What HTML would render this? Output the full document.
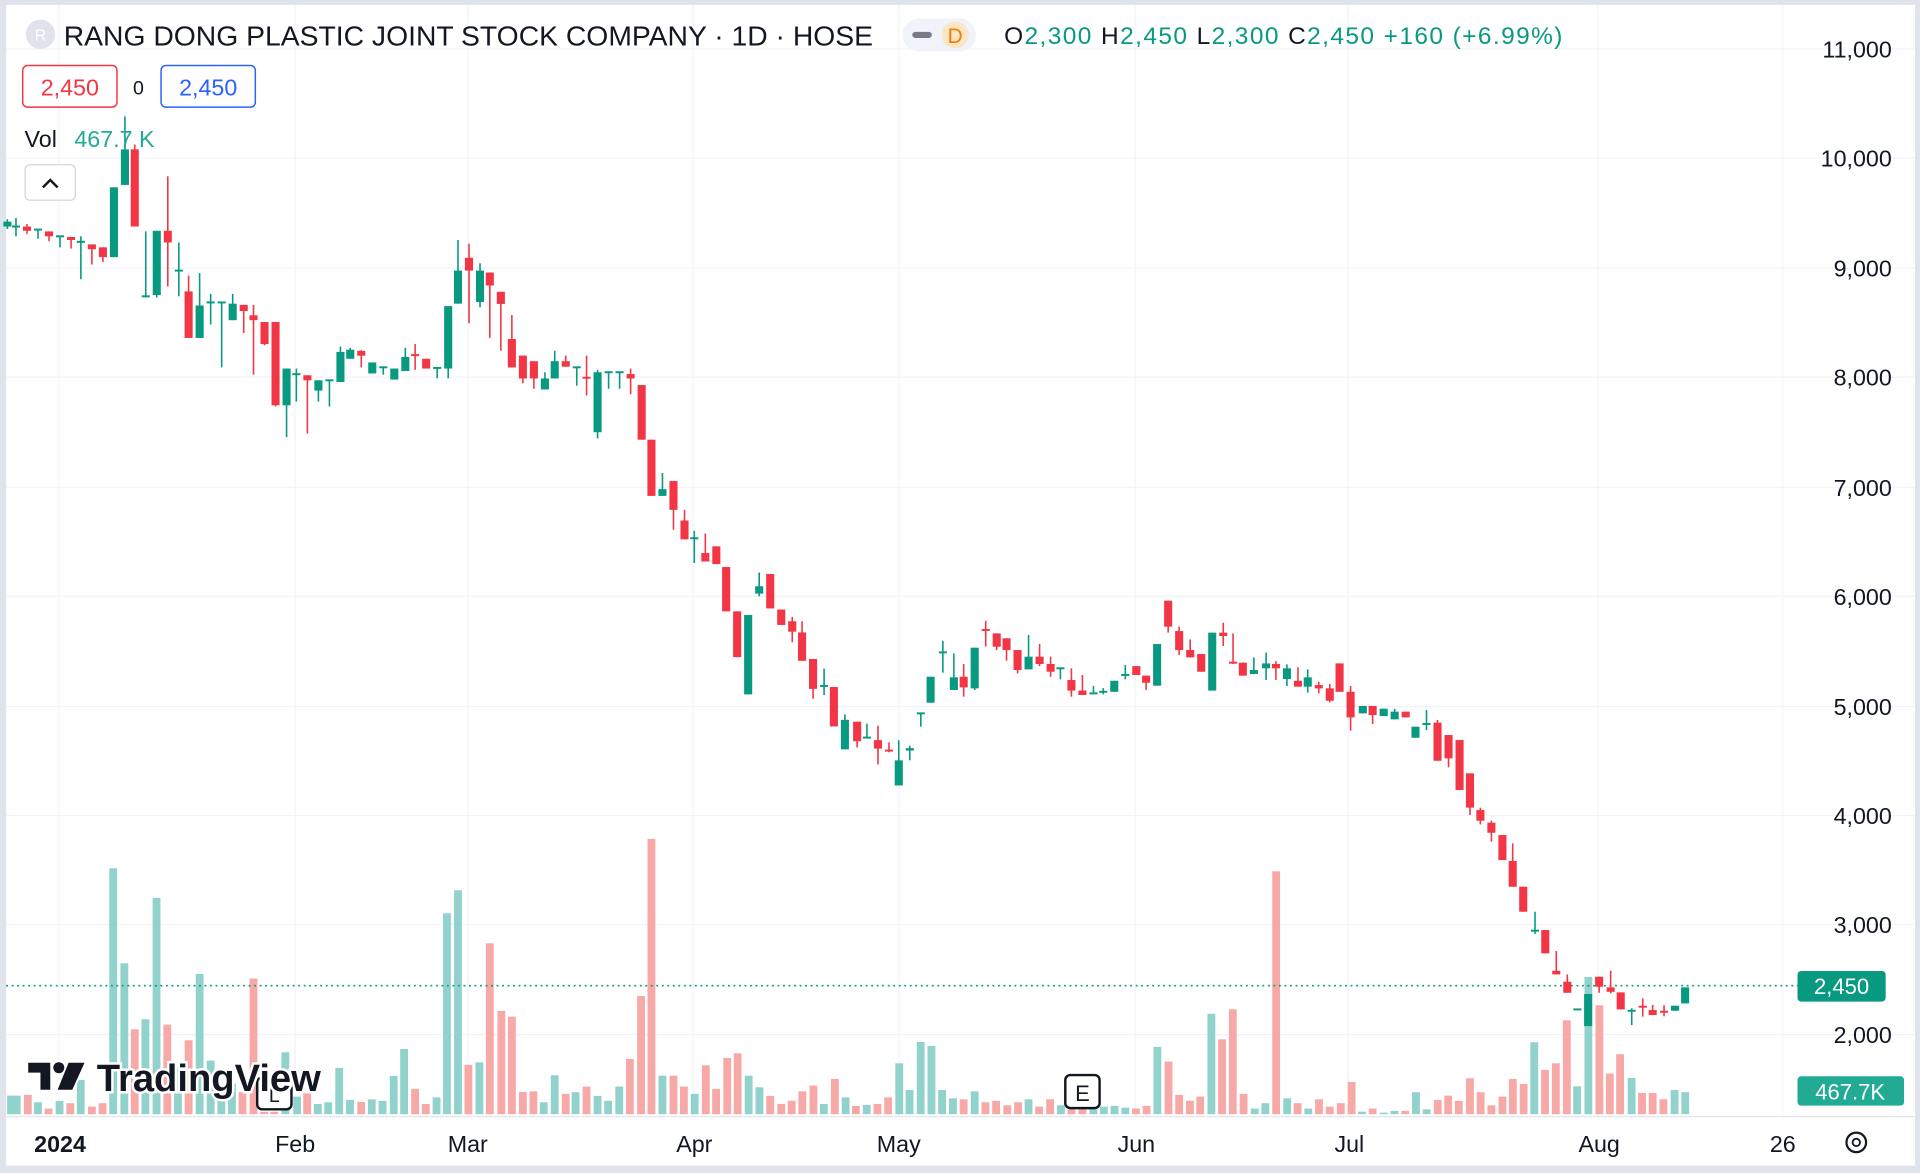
<!DOCTYPE html>
<html><head><meta charset="utf-8">
<style>
html,body{margin:0;padding:0;background:#fff;}
svg{display:block;font-family:"Liberation Sans",Arial,sans-serif;}
</style></head>
<body>
<svg id="s" width="1920" height="1173" viewBox="0 0 1568 958" xmlns="http://www.w3.org/2000/svg">
<rect x="0" y="0" width="1568" height="958" fill="#fff"/>
<rect x="0" y="0" width="5" height="958" fill="#e0e3eb"/>
<rect x="0" y="0" width="1568" height="4" fill="#e0e3eb"/>
<rect x="0" y="952" width="1568" height="6" fill="#e0e3eb"/>
<rect x="1564" y="0" width="4" height="958" fill="#e0e3eb"/>
<g id="grid" stroke="#f0f3fa" stroke-width="1"></g>
<g id="vol"></g>
<line x1="5" y1="805" x2="1468" y2="805" stroke="#089981" stroke-width="1.3" stroke-dasharray="1.5 3"/>
<g id="cdl"></g>
<line x1="5" y1="912" x2="1564" y2="912" stroke="#e0e3eb" stroke-width="1"/>

<!-- header -->
<circle cx="33" cy="28" r="12" fill="#e0e3eb"/>
<text x="33" y="33" font-size="13" fill="#fff" text-anchor="middle">R</text>
<text x="52" y="37" font-size="23" fill="#131722" textLength="661" lengthAdjust="spacingAndGlyphs">RANG DONG PLASTIC JOINT STOCK COMPANY · 1D · HOSE</text>
<rect x="737" y="15" width="60" height="27" rx="13.5" fill="#f0f3fa"/>
<rect x="745" y="26" width="16" height="5" rx="2.5" fill="#787b86"/>
<circle cx="780" cy="28.5" r="11" fill="#fde6c8"/>
<text x="780" y="35" font-size="17" fill="#f57c00" text-anchor="middle">D</text>
<text x="820" y="36" font-size="20" fill="#131722" textLength="456" lengthAdjust="spacing">O<tspan fill="#089981">2,300</tspan>  H<tspan fill="#089981">2,450</tspan>  L<tspan fill="#089981">2,300</tspan>  C<tspan fill="#089981">2,450  +160  (+6.99%)</tspan></text>

<rect x="18.5" y="53.5" width="77" height="34" rx="4" fill="#fff" stroke="#f23645" stroke-width="1.2"/>
<text x="57" y="78" font-size="19" fill="#f23645" text-anchor="middle">2,450</text>
<text x="113" y="77" font-size="16" fill="#131722" text-anchor="middle">0</text>
<rect x="131.5" y="53.5" width="77" height="34" rx="4" fill="#fff" stroke="#2962ff" stroke-width="1.2"/>
<text x="170" y="78" font-size="19" fill="#2962ff" text-anchor="middle">2,450</text>

<text x="20" y="120" font-size="19" fill="#131722">Vol <tspan fill="#22ab94" dx="9">467.7 K</tspan></text>
<rect x="20.5" y="134.5" width="41" height="29" rx="4" fill="#fff" stroke="#d1d4dc"/>
<polyline points="35,153 41,147 47,153" fill="none" stroke="#131722" stroke-width="2"/>

<!-- price axis -->
<g font-size="19" fill="#131722" text-anchor="end">
<text x="1545" y="47">11,000</text>
<text x="1545" y="136">10,000</text>
<text x="1545" y="226">9,000</text>
<text x="1545" y="315">8,000</text>
<text x="1545" y="405">7,000</text>
<text x="1545" y="494">6,000</text>
<text x="1545" y="584">5,000</text>
<text x="1545" y="673">4,000</text>
<text x="1545" y="762">3,000</text>
<text x="1545" y="852">2,000</text>
</g>
<rect x="1468" y="793" width="72" height="25" rx="3" fill="#089981"/>
<text x="1504" y="812" font-size="18" fill="#fff" text-anchor="middle">2,450</text>
<rect x="1468" y="879" width="87" height="24" rx="3" fill="#22ab94"/>
<text x="1511" y="898" font-size="18" fill="#fff" text-anchor="middle">467.7K</text>

<!-- time axis -->
<g font-size="19" fill="#131722" text-anchor="middle">
<text x="49" y="941" font-weight="bold">2024</text>
<text x="241" y="941">Feb</text>
<text x="382" y="941">Mar</text>
<text x="567" y="941">Apr</text>
<text x="734" y="941">May</text>
<text x="928" y="941">Jun</text>
<text x="1102" y="941">Jul</text>
<text x="1306" y="941">Aug</text>
<text x="1456" y="941">26</text>
</g>
<circle cx="1516" cy="933" r="8" fill="none" stroke="#131722" stroke-width="1.8"/>
<circle cx="1516" cy="933" r="3" fill="none" stroke="#131722" stroke-width="1.5"/>

<!-- markers -->
<rect x="210" y="880" width="28" height="26" rx="4" fill="#fff" stroke="#131722" stroke-width="2"/>
<text x="224" y="900" font-size="16" fill="#131722" text-anchor="middle">L</text>
<rect x="870" y="878" width="28" height="27" rx="4" fill="#fff" stroke="#131722" stroke-width="2"/>
<text x="884" y="899" font-size="18" fill="#131722" text-anchor="middle">E</text>

<!-- logo -->
<g fill="#131722" stroke="#fff" stroke-width="3" paint-order="stroke">
<path d="M23,868 h18 v22 h-8 v-14 h-10 z"/>
<circle cx="48" cy="872" r="4.5"/>
<path d="M56,868 h13 l-10,22 h-12 z"/>
</g>
<text x="79" y="891" font-size="31" font-weight="bold" fill="#131722" stroke="#fff" stroke-width="4" paint-order="stroke" textLength="183" lengthAdjust="spacingAndGlyphs">TradingView</text>
</svg>
<script>
var NS="http://www.w3.org/2000/svg";
function el(p,t,a){var e=document.createElementNS(NS,t);for(var k in a)e.setAttribute(k,a[k]);p.appendChild(e);return e;}
var g=document.getElementById('grid');
[40,129,219,308,398,487,577,666,755,845].forEach(function(y){el(g,'line',{x1:5,x2:1564,y1:y,y2:y});});
[48,241,382,566,734,927,1101,1305,1456].forEach(function(x){el(g,'line',{x1:x,x2:x,y1:4,y2:912});});
var C=[[6,185,181,179,187,1],[13,185,185,178,193,1],[22,185,188.5,183,191,0],[31,187.5,187.5,187.5,195,1],[40,189,193,189,197,0],[49,193,193,193,202,1],[58,193.5,196,193.5,203,0],[66,197.5,197.5,193,228,1],[75,199.6,203.5,199.6,216,0],[84,202,210,202,214,0],[93,210,153,153,210,1],[102,151,122,95,151,1],[110,122,185,118,185,0],[119,243,242,189,243,1],[128,241,188.5,188.5,243,1],[137,188.5,198,144,234,0],[146,221,221,198,242,1],[154,238,276,225,276,0],[163,276,249.5,223,276,1],[172,247,247,240,265,1],[181,247,247,247,300,1],[190,261.5,248,240,261.5,1],[199,249,254,249,272,0],[207,257.5,261.5,249,306,0],[216,263,281,263,282,0],[225,263,331,263,332,0],[234,331,301,301,357,1],[242,305.6,305.6,301,328,1],[251,306.5,310.6,306.5,354,0],[260,319,310.6,310.6,328,1],[269,310.6,310.6,310.6,332,1],[278,312,287.4,283,312,1],[286,293,285.6,284,293,1],[295,286.6,290.5,286,300,0],[304,305,296,296,305,1],[313,300,300,300,306,1],[322,310,301,301,310,1],[331,303,291.5,284,303,1],[339,290,290,281,302,0],[348,293,301,293,301,0],[357,300.5,300.5,300.5,309,1],[366,301,250,250,309,1],[374,248,221,196,248,1],[383,210.5,221,199,264,0],[392,246.7,221,215,251,1],[400,222.6,233.2,222.6,276,0],[409,238.3,248.2,238.3,286.5,0],[418,276.9,300.1,257.3,300.1,0],[427,290.4,309.1,290.4,313,0],[436,295,309.1,295,317.5,0],[445,318.1,309.1,304,318.1,1],[453,309.1,295,286.5,309.1,1],[462,295,299.5,290.4,299.5,0],[471,300,300,300,315,1],[479,308.5,308.5,290.4,323,0],[488,353,304,302,358,1],[497,304,304,304,317.5,1],[506,304,304,304,317.5,1],[515,305.5,309.1,301,322,0],[524,314.5,359.1,314.5,359.1,0],[532,359.1,405,359.1,405,0],[541,405,399.5,386.3,405,1],[550,392.9,416.4,392.9,432.7,0],[559,425.1,440.5,416.4,440.5,0],[567,439.6,439.6,433.6,459.8,1],[576,451.7,458.6,435.7,458.6,0],[585,446.2,460.7,446.2,460.7,0],[593,463.1,499.3,463.1,499.3,0],[602,499.3,536.7,499.3,536.7,0],[611,567.1,502.3,502.3,567.1,1],[620,484.8,478.8,467.6,487,1],[629,468.8,496.9,468.8,496.9,0],[638,497.8,510.4,497.8,510.4,0],[647,507.4,515.9,503.8,524.6,0],[655,516.5,539.7,507.4,539.7,0],[664,538.2,562.6,538.2,570.7,0],[673,560.2,560.2,546,567.7,1],[681,561.1,593.3,561.1,593.3,0],[690,612,587.9,583.4,612,1],[700,589.4,605.4,589.4,610.5,0],[708,602.4,602.4,591,602.4,1],[717,604.5,611.4,592.7,624.4,0],[726,613,613,606.3,614.4,0],[734,641.5,621,604.5,641.5,1],[743,613,611,609,621,1],[752,582.6,582.6,582.6,593.5,1],[760,573.9,552.7,552.7,573.9,1],[770,532.8,532.8,523.3,549.4,1],[779,563.5,553.2,533.6,563.5,1],[787,552.7,561.4,542.3,569,0],[796,562.2,529,529,563.5,1],[805,514.5,514.5,507,528,0],[814,517.3,528.2,517.3,530.9,0],[822,521.3,530.9,521.3,539.6,0],[831,530.9,547.2,530.9,550,0],[840,546.7,536.3,518.6,546.7,1],[849,536.3,542.3,526,544,0],[858,542.3,548.6,536.3,552.7,0],[866,545.8,545.8,545.8,554.8,1],[875,555.4,564,545.8,569,0],[884,564,567.6,551.3,567.6,0],[893,566.3,566.3,560.3,566.3,1],[901,565,565,562,567,1],[910,565,556,556,565,1],[919,551.3,551.3,543.1,554.8,1],[928,544,551.3,544,551.3,0],[936,551.8,557.6,551.8,563.5,0],[945,560,526,526,560,1],[954,490.6,511.8,490.6,516.7,0],[963,515.4,530.9,511.8,535,0],[972,530.9,536.9,522.2,536.9,0],[981,534.1,548.6,534.1,548.6,0],[990,564,516.7,516.7,564,1],[999,516.7,519.4,508.6,527.6,0],[1007,541.2,542.3,517.3,542.3,0],[1015,541.2,551.8,541.2,551.8,0],[1024,550.5,547.2,536.9,550.5,1],[1034,545.8,541.8,533,555.4,1],[1042,542.3,545.8,540,555.4,0],[1051,554.6,545.8,542.6,560.3,1],[1060,556,560.8,545,560.8,0],[1068,560.8,553.2,546.7,565.7,1],[1077,559.5,562.2,556.7,566.3,0],[1086,562.2,572.3,558.6,573.6,0],[1094,541.8,565,541.8,565,0],[1103,565,585.9,560.3,596.8,0],[1113,582.6,576.6,576.6,582.6,1],[1121,576.6,584,576.6,591.3,0],[1130,584.8,578.8,578.8,584.8,1],[1139,587.5,581.2,579,587.5,1],[1148,581.2,585.9,581.2,585.9,0],[1156,602.5,593.5,593.5,602.5,1],[1165,591.3,591.3,579.9,596.2,1],[1174,590.2,621.3,588,621.3,0],[1183,600.3,619.4,600.3,626.7,0],[1192,604.4,645.2,604.4,645.2,0],[1200.5,631.6,659.6,631.6,665.6,0],[1209,661.6,670.3,659.6,673.3,0],[1218,671.9,680.1,670.3,687.4,0],[1227,682,702.4,682,702.4,0],[1235.4,703.2,724.2,688.8,724.2,0],[1244,724.2,744.6,724.2,744.6,0],[1253.6,760.1,760.1,744.6,762.8,1],[1262,759.6,778.6,759.6,778.6,0],[1271,792.8,795.8,776.7,795.8,0],[1280,801.8,810.8,795.8,810.8,0],[1288.2,824.4,824.4,824.4,824.4,1],[1297,838,811.8,811.8,838,1],[1306,797.7,805.9,797.7,810.8,0],[1315.4,806.4,810,792.8,811.3,0],[1323.6,810.5,824.4,810.5,824.4,0],[1332.6,825.5,825.5,823.5,837.2,1],[1341.6,822.2,822.2,815.4,830.3,0],[1349.7,824.9,829,820.8,829,0],[1359,826.3,826.3,821,830,0],[1368,825.5,821.4,821.4,825.5,1],[1376.2,819.5,806.4,806.4,819.5,1]];
var V=[[9,894.8],[13.6,894.8],[22.7,894.2],[31,900.2],[39.6,905.4],[48.6,899.1],[57.4,901],[65.9,882],[75,903.8],[83.7,901],[92.4,709.1],[101.5,786.7],[110,840.6],[118.7,832.4],[127.8,733.3],[136.6,836.8],[145.3,872],[154,849.6],[163,795.4],[172,866.2],[180.7,893],[189.4,885],[198,892],[207,799.2],[215.7,908],[224,908],[233,859.4],[242.6,895.6],[250.8,892.9],[259.5,901.6],[268,900.2],[277,872.2],[285.8,898.3],[295,900],[303.6,897.8],[312.4,899.1],[321.5,878.7],[330,856.7],[339,889.3],[347.7,901.6],[356.5,896.2],[365,745.9],[374,727.1],[382.5,869.7],[391.5,867.6],[400,770.4],[409.4,825.6],[418,830.3],[427,891.8],[435.6,891.3],[444,900.2],[453,878.2],[462,893.4],[470,892],[479,887.4],[488,895],[496.6,899],[505.7,887.4],[514.4,864.8],[523.5,813.4],[532,685.1],[541,878.5],[550,878.5],[558.5,887.4],[567.3,893.4],[576.4,870],[584.8,889.3],[593.9,864],[602.4,860.2],[611.4,878.5],[620.2,888],[629,895],[638,901.6],[646.5,899],[655.2,891.3],[664.3,886.6],[672.8,901.6],[681.8,881.2],[690.6,896.2],[699,903.2],[707.8,902.4],[716.6,901.6],[725.3,896.2],[734.4,868.4],[742.8,890.2],[751.9,851],[760.7,854.2],[769.4,890.2],[778.2,897],[787,897.8],[796,891.3],[804.8,900.2],[813.5,899],[822.6,902.7],[831.4,900.2],[840,897.8],[848.6,903.8],[857.6,897.8],[866.4,902.7],[875,906],[884,906],[893,906],[901.5,903.8],[910.2,903.2],[919,904.6],[927.7,905.4],[936.4,903.2],[945.2,855],[954.3,867],[963,894.2],[971.8,899],[980.2,895.6],[989.3,828],[998,848.8],[1006.8,824.3],[1015.6,893.4],[1024.7,905.4],[1033.4,901],[1042.2,711.6],[1051.2,897],[1059.7,901],[1068.5,905.4],[1077.2,897.8],[1086,903.8],[1095,901],[1103.8,883.6],[1112.3,907.9],[1121,905.4],[1130,908.7],[1138.9,907.3],[1147.6,907.3],[1156.4,892],[1165.1,906],[1174.2,898.3],[1182.7,894.8],[1191.4,899.1],[1200.5,880.6],[1209.2,892],[1218,902.7],[1227,895.6],[1235.5,881.2],[1244.3,885.3],[1253,851.2],[1261.8,873.8],[1270.6,868.4],[1279.6,833.3],[1288,887.2],[1297.2,797.9],[1306.2,821],[1314.7,876.8],[1323.1,861],[1332.5,880.4],[1341,892.6],[1349.7,892.6],[1358.5,897.8],[1367.6,890.2],[1376.3,892]];
function colorAt(x){var b=C[0],d=1e9;C.forEach(function(c){var dd=Math.abs(c[0]-x);if(dd<d){d=dd;b=c;}});return b[5];}
var vg=document.getElementById('vol');
V.forEach(function(v){var gr=colorAt(v[0]);el(vg,'rect',{x:v[0]-3.2,y:v[1],width:6.4,height:Math.max(910-v[1],1),fill:gr?'#92d2cc':'#f7a9a7'});});
var cg=document.getElementById('cdl');
C.forEach(function(c){var col=c[5]?'#089981':'#f23645';var x=c[0];
el(cg,'line',{x1:x,x2:x,y1:c[3],y2:c[4],stroke:col,'stroke-width':1.3});
var t=Math.min(c[1],c[2]),h=Math.abs(c[1]-c[2]);if(h<1.6){t-=0.8;h=1.6;}
el(cg,'rect',{x:x-3.3,y:t,width:6.6,height:h,fill:col});});
</script>
</body></html>
